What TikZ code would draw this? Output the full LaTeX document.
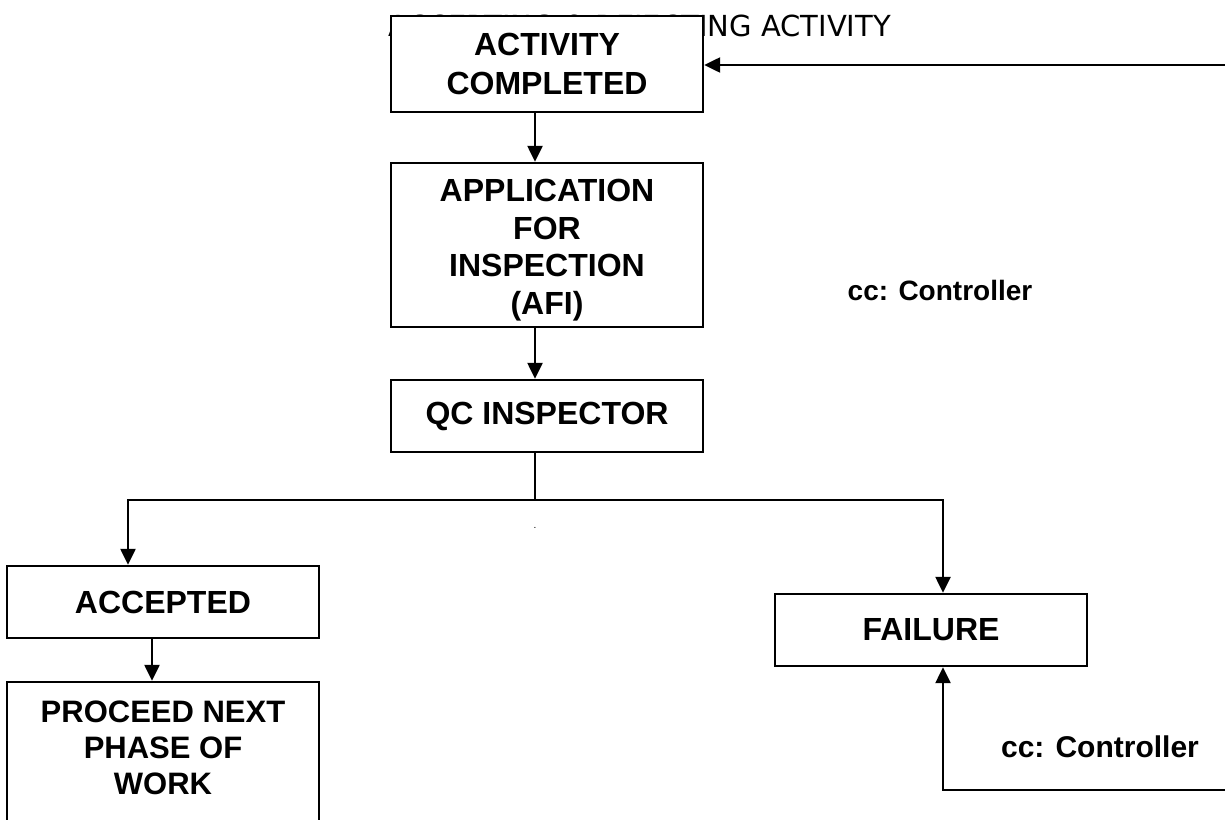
\documentclass[tikz,border=0pt]{standalone}
\usepackage{fontspec}
\setmainfont{Liberation Sans}
\newfontfamily\titlefont{DejaVu Sans}
\usetikzlibrary{arrows.meta}
\tikzset{
  box/.style={draw, line width=2.4pt, fill=white, minimum width=312pt, align=center,
    font=\fontsize{32}{38.5}\selectfont\bfseries, inner sep=0pt},
  conn/.style={line width=2.4pt},
  arr/.style={line width=2.4pt, -{Triangle[length=16pt,width=15pt]}},
  note/.style={font=\fontsize{30}{36}\selectfont\bfseries, inner sep=0pt},
  btext/.style={align=center, font=\fontsize{31}{36}\selectfont\bfseries, inner sep=0pt},
}
\begin{document}
\begin{tikzpicture}[x=1pt,y=-1pt]
\useasboundingbox (0,0) rectangle (1225,819);
\clip (0,0) rectangle (1225,819);
% title (partly hidden behind first box)
\node[anchor=base east, inner sep=0pt, font=\titlefont\fontsize{29}{33}\selectfont] (title) at (891,36.5) {ACCEPTING \& REJECTING ACTIVITY};
% boxes
\node[box, minimum height=96pt] (done) at (547,64) {ACTIVITY\\COMPLETED};
\node[box, minimum height=164pt] (afi) at (547,245) {};
\node[btext, font=\fontsize{32}{37.5}\selectfont\bfseries] (afitext) at (547,250) {APPLICATION\\FOR\\INSPECTION\\(AFI)};
\node[box, minimum height=72pt] (qc) at (547,416) {QC INSPECTOR};
\node[box, minimum height=72pt] (acc) at (163,602) {ACCEPTED};
\node[box, minimum height=160pt] (procframe) at (163,762) {};
\node[btext] (proceed) at (163,748) {PROCEED NEXT\\PHASE OF\\WORK};
\node[box, minimum height=72pt] (fail) at (931,630) {FAILURE};
% notes
\node[note, font=\fontsize{28}{34}\selectfont\bfseries] (cc1) at (940,290) {cc: Controller};
\node[note] (cc2) at (1100,747) {cc: Controller};
\node[inner sep=0pt, font=\fontsize{10}{12}\selectfont] (dot) at (535,528) {.};
% coordinates
\coordinate (tr) at (1225,65);
\coordinate (split) at (535,500);
\coordinate (accL) at (128,500);
\coordinate (failR) at (943,500);
\coordinate (br) at (1225,790);
\coordinate (bl) at (943,790);
% connectors
\draw[arr] (tr) -- (tr -| done.east);
\draw[arr] ([xshift=-12pt]done.south) -- ([xshift=-12pt]afi.north);
\draw[arr] ([xshift=-12pt]afi.south) -- ([xshift=-12pt]qc.north);
\draw[conn] ([xshift=-12pt]qc.south) -- (split);
\draw[arr] (split) -- (accL) -- (accL |- acc.north);
\draw[arr] (split) -- (failR) -- (failR |- fail.north);
\draw[arr] ([xshift=-11pt]acc.south) -- ([xshift=-11pt]procframe.north);
\draw[arr] (br) -- (bl) -- (bl |- fail.south);
\end{tikzpicture}
\end{document}
